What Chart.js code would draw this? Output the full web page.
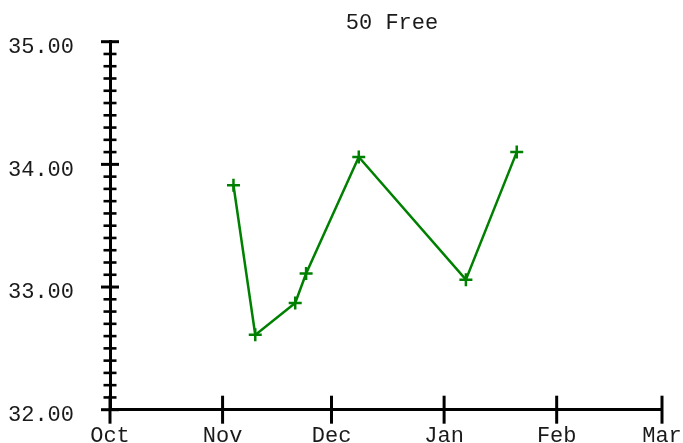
<!DOCTYPE html>
<html><head><meta charset="utf-8">
<script src="https://cdn.jsdelivr.net/npm/chart.js@4"></script>
<style>html,body{margin:0;padding:0;background:#fff}#wrap{width:683px;height:443px}</style>
</head><body><div id="wrap"><canvas id="c" width="683" height="443"></canvas></div>
<script>
const chartTitle = '50 Free';
const monthLabels = ['Oct', 'Nov', 'Dec', 'Jan', 'Feb', 'Mar'];
const monthStartDays = [0, 31, 61, 92, 123, 152]; // days since Oct 1 (season with a leap February)
const swimDays = [34, 40, 51, 54, 68.5, 98, 112];
const swimTimes = [33.83, 32.61, 32.87, 33.11, 34.06, 33.06, 34.10];
const yMajorTicks = [32, 33, 34, 35];
const yMinorPerMajor = 10;

const FONT = { family: '"Liberation Mono", "DejaVu Sans Mono", monospace', size: 22 };
const TEXT = '#1a1a1a';

const tickMarks = {
  id: 'tickMarks',
  afterDraw(chart) {
    const { ctx, chartArea, scales: { x, y } } = chart;
    const ax = chartArea.left, ay = chartArea.bottom;
    ctx.save();
    ctx.strokeStyle = '#000';
    y.ticks.forEach(t => {
      const py = y.getPixelForValue(t.value);
      const major = t.major;
      const h = major ? 9 : 6.5;
      ctx.lineWidth = major ? 3 : 2.6;
      ctx.beginPath(); ctx.moveTo(ax - h, py); ctx.lineTo(ax + h, py); ctx.stroke();
    });
    x.ticks.forEach(t => {
      const px = x.getPixelForValue(t.value);
      ctx.lineWidth = 3;
      ctx.beginPath(); ctx.moveTo(px, ay - 14); ctx.lineTo(px, ay + 14); ctx.stroke();
    });
    ctx.restore();
  }
};

const titleShift = {
  id: 'titleShift',
  afterLayout(chart) {
    const t = chart.titleBlock;
    if (t) { t.left = chart.chartArea.left + 12; t.right = chart.chartArea.right; t.width = t.right - t.left; }
  }
};

new Chart(document.getElementById('c'), {
  type: 'line',
  data: {
    datasets: [{
      label: chartTitle,
      data: swimDays.map((d, i) => ({ x: d, y: swimTimes[i] })),
      borderColor: '#008000',
      backgroundColor: '#008000',
      borderWidth: 2.5,
      pointStyle: 'cross',
      pointRadius: 6.5,
      pointBorderWidth: 2.5,
      pointBorderColor: '#008000',
      tension: 0,
      fill: false,
      clip: false
    }]
  },
  options: {
    responsive: false,
    devicePixelRatio: 1,
    animation: false,
    layout: { padding: { left: 0, right: 21, top: 0, bottom: 0 } },
    plugins: {
      legend: { display: false },
      tooltip: { enabled: false },
      title: {
        display: true, text: chartTitle, color: TEXT,
        font: { ...FONT, weight: 'normal', lineHeight: 1.2 },
        padding: { top: 10, bottom: 5.3 }
      }
    },
    scales: {
      x: {
        type: 'linear', position: 'bottom',
        min: monthStartDays[0], max: monthStartDays[monthStartDays.length - 1],
        afterBuildTicks: s => { s.ticks = monthStartDays.map(v => ({ value: v })); },
        afterFit: s => { s.height = 33.3; s.paddingLeft = 0; s.paddingRight = 0; },
        grid: { display: true, drawOnChartArea: false, drawTicks: false },
        border: { display: true, width: 3, color: '#000' },
        ticks: {
          autoSkip: false, maxRotation: 0, padding: 13, color: TEXT, font: FONT,
          callback: v => { const i = monthStartDays.indexOf(v); return i >= 0 ? monthLabels[i] : ''; }
        }
      },
      y: {
        type: 'linear', position: 'left',
        min: yMajorTicks[0], max: yMajorTicks[yMajorTicks.length - 1],
        afterBuildTicks: s => {
          const ticks = [];
          for (let m = 0; m < yMajorTicks.length; m++) {
            ticks.push({ value: yMajorTicks[m], major: true });
            if (m < yMajorTicks.length - 1) {
              const step = (yMajorTicks[m + 1] - yMajorTicks[m]) / yMinorPerMajor;
              for (let k = 1; k < yMinorPerMajor; k++) ticks.push({ value: yMajorTicks[m] + k * step, major: false });
            }
          }
          s.ticks = ticks;
        },
        afterFit: s => { s.width = 110; s.paddingTop = 0; s.paddingBottom = 0; },
        grid: { display: true, drawOnChartArea: false, drawTicks: false },
        border: { display: true, width: 3, color: '#000' },
        ticks: {
          autoSkip: false, padding: 36, labelOffset: 5.5, color: TEXT, font: FONT,
          callback: v => yMajorTicks.some(m => Math.abs(m - v) < 1e-9) ? v.toFixed(2) : ''
        }
      }
    }
  },
  plugins: [tickMarks, titleShift]
});
</script>
</body></html>
